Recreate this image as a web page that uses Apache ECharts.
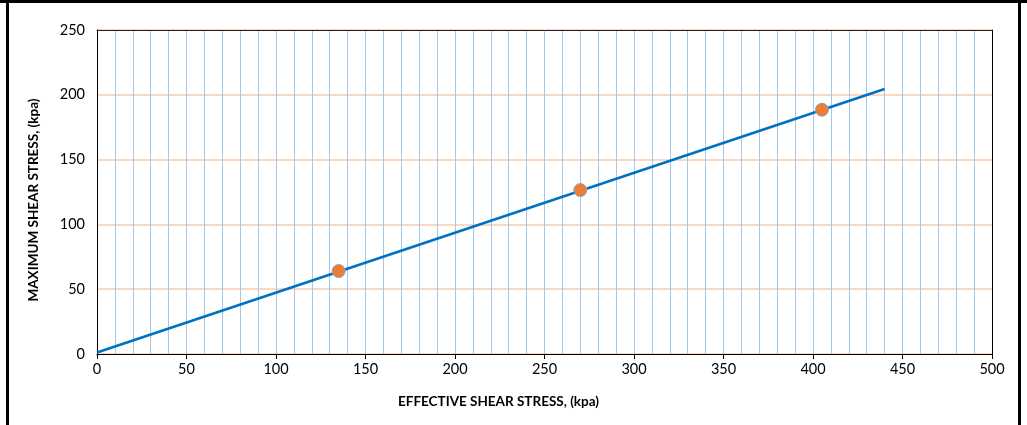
<!DOCTYPE html>
<html>
<head>
<meta charset="utf-8">
<script src="https://cdn.jsdelivr.net/npm/echarts@6/dist/echarts.min.js"></script>
<style>html,body{margin:0;padding:0;background:#fff;}#c{width:1027px;height:425px;}</style>
</head>
<body>
<div id="c"></div>
<script>
var xTitle = 'EFFECTIVE SHEAR STRESS, (kpa)';
var yTitle = 'MAXIMUM SHEAR STRESS, (kpa)';
var lineX = [0, 440];
var lineY = [1.2, 204.5];
var pointX = [135, 270, 405];
var pointY = [64, 126.5, 188.5];

var chart = echarts.init(document.getElementById('c'), null, {renderer: 'canvas'});
var font = 'Lato, "Open Sans", sans-serif';
chart.setOption({
  animation: false,
  grid: {left: 97, right: 35, top: 30, bottom: 71},
  xAxis: [{
    type: 'value', min: 0, max: 500, interval: 50,
    axisLine: {show: true, onZero: false, lineStyle: {color: '#000', width: 1}},
    axisTick: {show: true, length: 5, lineStyle: {color: '#000'}},
    axisLabel: {color: '#000', fontSize: 14.5, fontFamily: font, margin: 8},
    splitLine: {show: true, lineStyle: {color: '#A5C8EA', width: 1}},
    minorTick: {show: true, splitNumber: 5, length: 0},
    minorSplitLine: {show: true, lineStyle: {color: '#A5C8EA', width: 1}}
  }, {
    type: 'value', position: 'top', min: 0, max: 500,
    axisLine: {show: true, onZero: false, lineStyle: {color: '#222', width: 1}},
    axisTick: {show: false}, axisLabel: {show: false}, splitLine: {show: false}
  }],
  yAxis: [{
    type: 'value', min: 0, max: 250, interval: 50,
    axisLine: {show: true, onZero: false, lineStyle: {color: '#000', width: 1}},
    axisTick: {show: false},
    axisLabel: {color: '#000', fontSize: 14.5, fontFamily: font, margin: 12},
    splitLine: {show: true, lineStyle: {color: '#F8CBAD', width: 1.5}}
  }, {
    type: 'value', position: 'right', min: 0, max: 250,
    axisLine: {show: true, onZero: false, lineStyle: {color: '#000', width: 1}},
    axisTick: {show: false}, axisLabel: {show: false}, splitLine: {show: false}
  }],
  series: [
    {
      type: 'line', data: lineX.map(function (x, i) { return [x, lineY[i]]; }),
      showSymbol: false, lineStyle: {color: '#0070C0', width: 2.5}, z: 3
    },
    {
      type: 'scatter', data: pointX.map(function (x, i) { return [x, pointY[i]]; }),
      symbolSize: 13, itemStyle: {color: '#ED7D31', borderColor: '#7FA6D6', borderWidth: 1, opacity: 1}, z: 4
    }
  ],
  graphic: [
    {type: 'text', left: 398, top: 395, style: {text: xTitle, font: 'bold 13.5px ' + font, fill: '#000'}},
    {type: 'text', x: 27, y: 200, rotation: Math.PI / 2, style: {text: yTitle, font: 'bold 13.5px ' + font, fill: '#000', textAlign: 'center', textVerticalAlign: 'top'}},
    {type: 'rect', shape: {x: 0, y: 0, width: 1027, height: 3}, style: {fill: '#000'}},
    {type: 'rect', shape: {x: 6, y: 0, width: 3, height: 425}, style: {fill: '#000'}},
    {type: 'rect', shape: {x: 1018, y: 0, width: 3, height: 425}, style: {fill: '#000'}}
  ]
});
</script>
</body>
</html>
